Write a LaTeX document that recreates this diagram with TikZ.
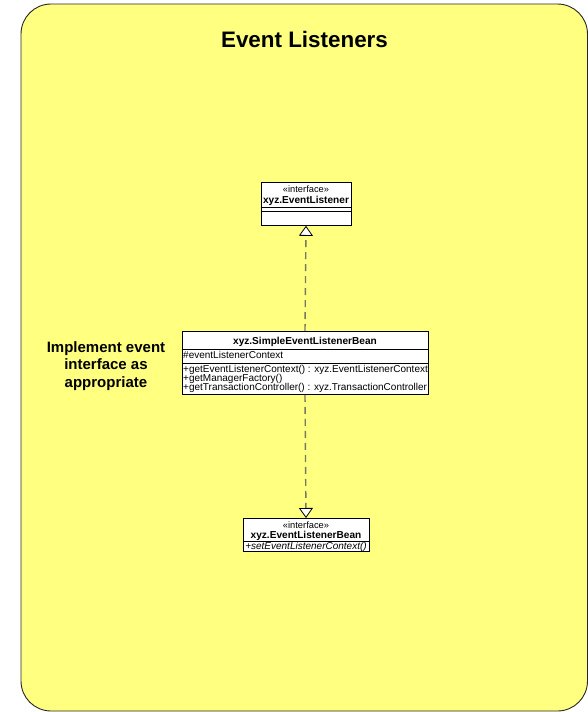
\documentclass[tikz,border=0pt]{standalone}
\usepackage{fontspec}
\setmainfont{Liberation Sans}
\usetikzlibrary{arrows.meta}
\definecolor{bgyellow}{RGB}{255,255,128}
\definecolor{depgray}{RGB}{120,120,95}
\tikzset{
  umlbox/.style={draw=black, fill=white, line width=0.8pt, inner sep=0pt, anchor=north},
  txt/.style={inner sep=0pt, anchor=base},
  small/.style={font=\fontsize{9.3}{10}\selectfont},
  bname/.style={font=\bfseries\fontsize{10.1}{11}\selectfont},
  member/.style={font=\fontsize{10}{11}\selectfont, anchor=base west, inner sep=0pt},
  dep/.style={draw=depgray, line width=1.4pt, dash pattern=on 7pt off 5pt,
    -{Triangle[length=10pt,width=14pt,fill=white,color=black,line width=0.8pt]}},
}
\begin{document}
\begin{tikzpicture}[x=1pt,y=-1pt]
\useasboundingbox (0,0) rectangle (588,712);
\draw[fill=bgyellow, draw=black!85, line width=0.9pt, rounded corners=30pt] (21,4) rectangle (587.5,711);

\node[txt, font=\bfseries\fontsize{22.4}{26}\selectfont] (title) at (304.5,47) {Event Listeners};

\node[inner sep=0pt, align=center, font=\bfseries\fontsize{15}{17.2}\selectfont, anchor=center] (note) at (106,366)
  {Implement event\\interface as\\appropriate};

% Box 1
\node[umlbox, minimum width=90pt, minimum height=43pt] (b1) at (306,182) {};
\draw[line width=0.8pt] (b1.west |- 0,207) -- (b1.east |- 0,207);
\draw[line width=0.8pt] (b1.west |- 0,211) -- (b1.east |- 0,211);
\node[txt, small] (b1s) at (306,192) {«interface»};
\node[txt, bname] (b1n) at (306,203.5) {xyz.EventListener};

% Box 2
\node[umlbox, minimum width=246pt, minimum height=63pt] (b2) at (305,331) {};
\draw[line width=0.8pt] (b2.west |- 0,349) -- (b2.east |- 0,349);
\draw[line width=0.8pt] (b2.west |- 0,363) -- (b2.east |- 0,363);
\node[txt, bname] (b2n) at (305,344) {xyz.SimpleEventListenerBean};
\node[member] (b2a) at (183,358.5) {\#eventListenerContext};
\node[member] (b2o1) at (183,372) {+getEventListenerContext() : xyz.EventListenerContext};
\node[member] (b2o2) at (183,381) {+getManagerFactory()};
\node[member] (b2o3) at (183,390.5) {+getTransactionController() : xyz.TransactionController};

% Box 3
\node[umlbox, minimum width=126pt, minimum height=33pt] (b3) at (306,518) {};
\draw[line width=0.8pt] (b3.west |- 0,541) -- (b3.east |- 0,541);
\node[txt, small] (b3s) at (306,528) {«interface»};
\node[txt, bname] (b3n) at (306,538.5) {xyz.EventListenerBean};
\node[txt, font=\itshape\fontsize{10}{11}\selectfont] (b3o) at (306,549.5) {+setEventListenerContext()};

% connectors
\draw[dep] (b2.north) -- (b1.south);
\draw[dep] (b2.south) -- (b3.north);
\end{tikzpicture}
\end{document}
